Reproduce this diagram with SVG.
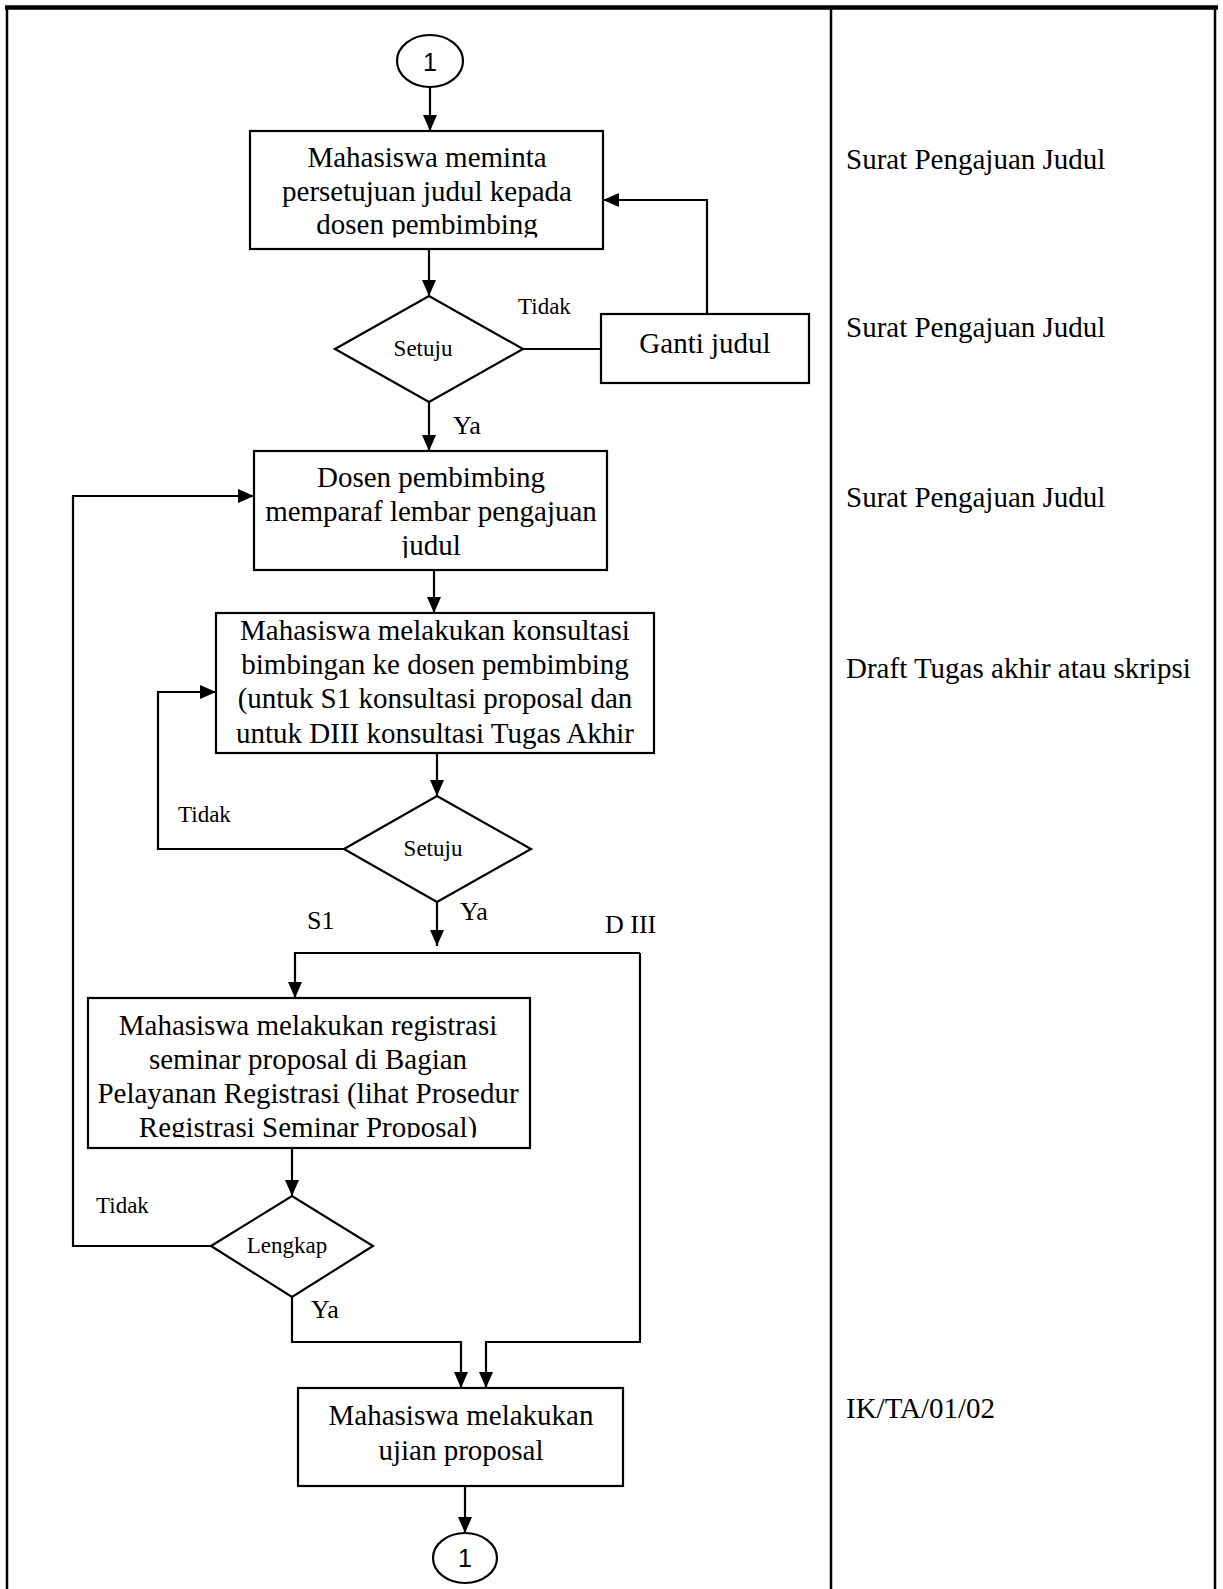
<svg xmlns="http://www.w3.org/2000/svg" width="1223" height="1589" viewBox="0 0 1223 1589">
<style>
.frame{stroke:#000;stroke-width:2.5;fill:none}
.box{fill:#fff;stroke:#000;stroke-width:2.2}
.con{fill:none;stroke:#000;stroke-width:2.2}
.t{font-family:"Liberation Serif","Times New Roman",serif;font-size:29px;fill:#000;text-anchor:middle}
.s{font-family:"Liberation Serif","Times New Roman",serif;font-size:23px;fill:#000}
.m{font-family:"Liberation Serif","Times New Roman",serif;font-size:26px;fill:#000}
.r{font-family:"Liberation Serif","Times New Roman",serif;font-size:29px;fill:#000}
.c{font-family:"Liberation Sans",Arial,sans-serif;font-size:25px;fill:#000;text-anchor:middle}
</style>
<defs>
<marker id="ah" markerUnits="userSpaceOnUse" markerWidth="16" markerHeight="14" refX="16" refY="7" orient="auto">
<path d="M0,0 L16,7 L0,14 z" fill="#000"/>
</marker>
<clipPath id="clipB1"><rect x="250" y="131" width="353" height="106.5"/></clipPath>
<clipPath id="clipB2"><rect x="254" y="451" width="353" height="107"/></clipPath>
<clipPath id="clipB4"><rect x="88" y="998" width="442" height="139.5"/></clipPath>
</defs>
<rect width="1223" height="1589" fill="#fff"/>
<g id="frame">
<line x1="5" y1="7.5" x2="1218" y2="7.5" stroke="#000" stroke-width="4.5"/>
<line class="frame" x1="7" y1="7" x2="7" y2="1589"/>
<line class="frame" x1="831" y1="7" x2="831" y2="1589"/>
<line class="frame" x1="1215" y1="7" x2="1215" y2="1589"/>
</g>
<g id="connectors">
<line class="con" x1="430" y1="87" x2="430" y2="131" marker-end="url(#ah)"/>
<line class="con" x1="429" y1="249" x2="429" y2="296" marker-end="url(#ah)"/>
<line class="con" x1="523" y1="349" x2="601" y2="349"/>
<polyline class="con" points="707,314 707,200 603,200" marker-end="url(#ah)"/>
<line class="con" x1="429" y1="402" x2="429" y2="451" marker-end="url(#ah)"/>
<line class="con" x1="434" y1="570" x2="434" y2="613" marker-end="url(#ah)"/>
<line class="con" x1="437" y1="753" x2="437" y2="796" marker-end="url(#ah)"/>
<polyline class="con" points="344,849 158,849 158,692 216,692" marker-end="url(#ah)"/>
<line class="con" x1="437" y1="902" x2="437" y2="946" marker-end="url(#ah)"/>
<polyline class="con" points="640,953 295,953 295,998" marker-end="url(#ah)"/>
<polyline class="con" points="640,953 640,1342 486,1342 486,1388" marker-end="url(#ah)"/>
<line class="con" x1="292" y1="1148" x2="292" y2="1196" marker-end="url(#ah)"/>
<polyline class="con" points="211,1246 73,1246 73,496 254,496" marker-end="url(#ah)"/>
<polyline class="con" points="292,1297 292,1342 461,1342 461,1388" marker-end="url(#ah)"/>
<line class="con" x1="465" y1="1486" x2="465" y2="1533" marker-end="url(#ah)"/>
</g>
<g id="start">
<ellipse class="box" cx="430" cy="61" rx="33" ry="26"/>
<text class="c" x="430" y="71">1</text>
</g>
<g id="box1">
<rect class="box" x="250" y="131" width="353" height="118"/>
<g clip-path="url(#clipB1)">
<text class="t" x="427" y="167">Mahasiswa meminta</text>
<text class="t" x="427" y="201">persetujuan judul kepada</text>
<text class="t" x="427" y="234">dosen pembimbing</text>
</g>
</g>
<g id="dec1">
<polygon class="box" points="335,349 429,296 523,349 429,402"/>
<text class="s" x="423" y="356" text-anchor="middle">Setuju</text>
</g>
<g id="ganti">
<rect class="box" x="601" y="314" width="208" height="69"/>
<text class="t" x="705" y="353">Ganti judul</text>
</g>
<g id="box2">
<rect class="box" x="254" y="451" width="353" height="119"/>
<g clip-path="url(#clipB2)">
<text class="t" x="431" y="487">Dosen pembimbing</text>
<text class="t" x="431" y="521">memparaf lembar pengajuan</text>
<text class="t" x="431" y="555">judul</text>
</g>
</g>
<g id="box3">
<rect class="box" x="216" y="613" width="438" height="140"/>
<text class="t" x="435" y="640">Mahasiswa melakukan konsultasi</text>
<text class="t" x="435" y="674">bimbingan ke dosen pembimbing</text>
<text class="t" x="435" y="708">(untuk S1 konsultasi proposal dan</text>
<text class="t" x="435" y="743">untuk DIII konsultasi Tugas Akhir</text>
</g>
<g id="dec2">
<polygon class="box" points="344,849 437,796 531,849 437,902"/>
<text class="s" x="433" y="856" text-anchor="middle">Setuju</text>
</g>
<g id="box4">
<rect class="box" x="88" y="998" width="442" height="150"/>
<g clip-path="url(#clipB4)">
<text class="t" x="308" y="1035">Mahasiswa melakukan registrasi</text>
<text class="t" x="308" y="1069">seminar proposal di Bagian</text>
<text class="t" x="308" y="1103">Pelayanan Registrasi (lihat Prosedur</text>
<text class="t" x="308" y="1137">Registrasi Seminar Proposal)</text>
</g>
</g>
<g id="dec3">
<polygon class="box" points="211,1246 292,1196 373,1246 292,1297"/>
<text class="s" x="287" y="1253" text-anchor="middle">Lengkap</text>
</g>
<g id="box5">
<rect class="box" x="298" y="1388" width="325" height="98"/>
<text class="t" x="461" y="1425">Mahasiswa melakukan</text>
<text class="t" x="461" y="1460">ujian proposal</text>
</g>
<g id="end">
<ellipse class="box" cx="465" cy="1558" rx="32" ry="25"/>
<text class="c" x="465" y="1567">1</text>
</g>
<g id="labels">
<text class="s" x="518" y="314">Tidak</text>
<text class="m" x="453" y="434">Ya</text>
<text class="s" x="178" y="822">Tidak</text>
<text class="m" x="460" y="920">Ya</text>
<text class="m" x="307" y="929">S1</text>
<text class="m" x="605" y="933">D III</text>
<text class="s" x="96" y="1213">Tidak</text>
<text class="m" x="311" y="1318">Ya</text>
</g>
<g id="documents">
<text class="r" x="846" y="169">Surat Pengajuan Judul</text>
<text class="r" x="846" y="337">Surat Pengajuan Judul</text>
<text class="r" x="846" y="507">Surat Pengajuan Judul</text>
<text class="r" x="846" y="678">Draft Tugas akhir atau skripsi</text>
<text class="r" x="846" y="1418">IK/TA/01/02</text>
</g>
</svg>
